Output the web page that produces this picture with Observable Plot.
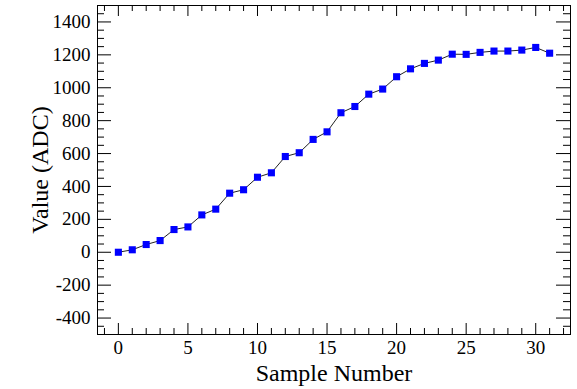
<!DOCTYPE html>
<html>
<head>
<meta charset="utf-8">
<script src="https://cdn.jsdelivr.net/npm/d3@7"></script>
<script src="https://cdn.jsdelivr.net/npm/@observablehq/plot@0.6"></script>
<style>
  html, body { margin: 0; padding: 0; background: #fff; }
  #chart svg { display: block; }
  #chart svg, #chart svg text { font-family: "Liberation Serif", "Times New Roman", serif !important; }
</style>
</head>
<body>
<div id="chart"></div>
<script>
// Data
const sampleNumbers = [0,1,2,3,4,5,6,7,8,9,10,11,12,13,14,15,16,17,18,19,20,21,22,23,24,25,26,27,28,29,30,31];
const values = [0,15,47,71,138,154,227,262,359,380,456,483,582,605,686,732,848,886,961,992,1067,1115,1148,1168,1204,1203,1215,1223,1223,1229,1245,1210];

// Axis tick values
const xMajorTicks = [0,5,10,15,20,25,30];
const xMinorTicks = d3.range(-1, 33, 1).filter(v => v % 5 !== 0);
const yMajorTicks = [-400,-200,0,200,400,600,800,1000,1200,1400];
const yMinorTicks = d3.range(-450, 1500, 50).filter(v => v % 200 !== 0);

const xTitle = "Sample Number";
const yTitle = "Value (ADC)";

const data = sampleNumbers.map((x, i) => ({x, y: values[i]}));

const W = 577, H = 389;
const mL = 97, mR = 7, mT = 5, mB = 55;
const fw = W - mL - mR, fh = H - mT - mB;
const font = "Liberation Serif";

const chart = Plot.plot({
  width: W,
  height: H,
  marginLeft: mL,
  marginRight: mR,
  marginTop: mT,
  marginBottom: mB,
  style: {fontFamily: font, background: "#fff", color: "#000"},
  x: {domain: [-1.5, 32.5]},
  y: {domain: [-500, 1500]},
  marks: [
    // tick labels
    Plot.axisX(xMajorTicks, {tickSize: 0, tickPadding: 6, fontSize: 19, fontFamily: font, label: null, tickFormat: d => String(d)}),
    Plot.axisY(yMajorTicks, {tickSize: 0, tickPadding: 7, fontSize: 19, fontFamily: font, label: null, tickFormat: d => String(d)}),
    // inside ticks: bottom & top x
    Plot.ruleX(xMajorTicks, {insetTop: fh - 11, stroke: "#000"}),
    Plot.ruleX(xMinorTicks, {insetTop: fh - 6, stroke: "#000"}),
    Plot.ruleX(xMajorTicks, {insetBottom: fh - 11, stroke: "#000"}),
    Plot.ruleX(xMinorTicks, {insetBottom: fh - 6, stroke: "#000"}),
    // inside ticks: left & right y
    Plot.ruleY(yMajorTicks, {insetRight: fw - 14, stroke: "#000"}),
    Plot.ruleY(yMinorTicks, {insetRight: fw - 7, stroke: "#000"}),
    Plot.ruleY(yMajorTicks, {insetLeft: fw - 14, stroke: "#000"}),
    Plot.ruleY(yMinorTicks, {insetLeft: fw - 7, stroke: "#000"}),
    Plot.frame({stroke: "#000", strokeWidth: 1}),
    // data
    Plot.line(data, {x: "x", y: "y", stroke: "#222", strokeWidth: 1}),
    Plot.dot(data, {x: "x", y: "y", symbol: "square", r: 4, fill: "#0000ff", stroke: "none"}),
    // titles
    Plot.text([xTitle], {frameAnchor: "bottom", lineAnchor: "middle", textAnchor: "middle", dy: 38.5, fontSize: 24, fontFamily: font, fill: "#000", text: d => d}),
    Plot.text([yTitle], {frameAnchor: "left", lineAnchor: "middle", textAnchor: "middle", dx: -57, rotate: -90, fontSize: 24, fontFamily: font, fill: "#000", text: d => d})
  ]
});
document.getElementById("chart").appendChild(chart);
</script>
</body>
</html>
